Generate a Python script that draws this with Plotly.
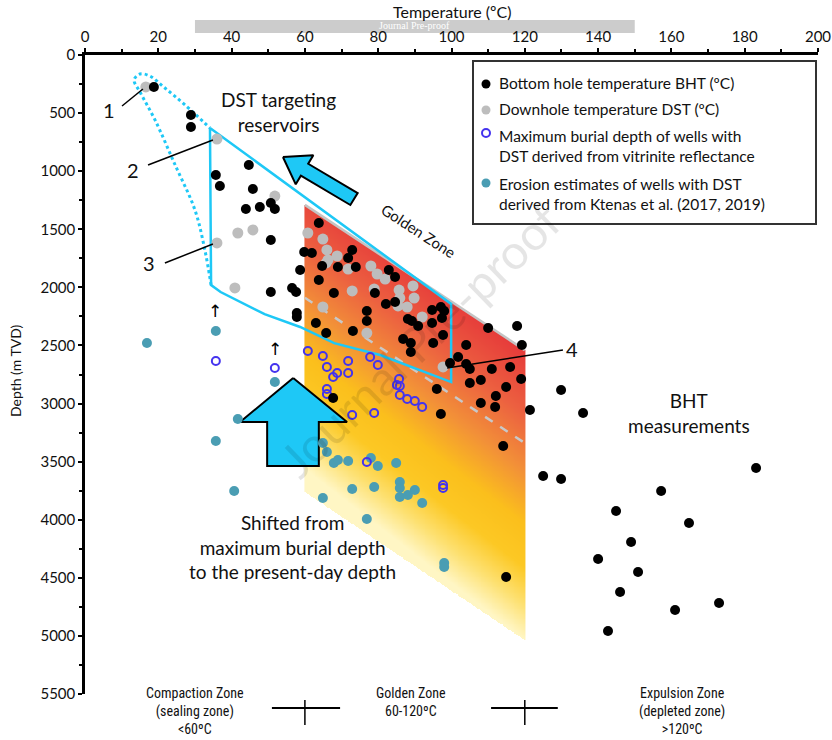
import numpy as np
import plotly.graph_objects as go

# ---------------- data (temperature °C, depth m TVD) ----------------
bht_temp = [18.8, 28.9, 28.9, 44.7, 35.7, 36.8, 45.8, 43.9, 47.7, 50.7, 51.8, 50.7, 50.7, 56.5, 57.6,
            63.8, 59.8, 61.9, 72.9, 71.8, 64.7, 69.0, 73.9, 58.7, 82.9, 84.6, 63.8, 67.9, 79.1, 82.1,
            84.6, 76.9, 94.7, 97.1, 98.0, 88.1, 89.2, 90.9, 94.7, 97.4, 76.9, 63.0, 57.8, 57.8, 65.8,
            73.1, 97.7, 86.8, 88.9, 88.9, 95.0, 110.0, 117.9, 119.2, 104.0, 101.8, 99.6, 104.0, 105.0,
            105.0, 108.0, 111.0, 116.0, 119.0, 114.9, 112.1, 108.0, 111.9, 96.0, 97.1, 121.4, 129.9,
            67.7, 135.9, 114.1, 125.0, 129.9, 157.2, 183.1, 144.9, 164.8, 149.0, 140.0, 150.9, 146.0,
            161.0, 173.0, 142.7, 114.9]
bht_depth = [275, 516, 620, 947, 1033, 1128, 1153, 1325, 1308, 1274, 1325, 1592, 2040, 2005, 2040,
             1446, 1696, 1704, 1678, 1747, 1816, 1825, 1825, 1851, 1851, 1911, 1937, 2048, 2048, 2143,
             2126, 2203, 2195, 2169, 2203, 2272, 2289, 2332, 2307, 2264, 2289, 2307, 2221, 2255, 2393,
             2376, 2410, 2444, 2479, 2556, 2479, 2350, 2332, 2496, 2496, 2599, 2651, 2660, 2703,
             2823, 2797, 2703, 2685, 2789, 2858, 2935, 2995, 3030, 2875, 3090, 3055, 2883,
             2952, 3081, 3365, 3624, 3649, 3753, 3555, 3925, 4028, 4192, 4338, 4450, 4622,
             4777, 4717, 4958, 4493]

dst_temp = [16.6, 36.0, 51.8, 41.7, 45.8, 36.0, 40.9, 60.8, 64.9, 66.0, 66.3, 65.8, 68.8, 71.8, 78.0,
            79.7, 81.9, 72.9, 78.9, 85.7, 85.9, 89.5, 89.8, 85.4, 87.9, 92.0, 64.9, 76.9, 97.7]
dst_depth = [275, 723, 1214, 1532, 1506, 1618, 2005, 1532, 1584, 1678, 1764, 1790, 1730, 1842, 1816,
             1885, 1928, 2031, 2014, 2023, 2092, 1988, 2092, 2160, 2169, 2255, 2169, 2393, 2685]

vr_temp = [35.7, 51.8, 60.8, 64.9, 66.0, 71.8, 77.8, 79.9, 68.8, 67.7, 71.8, 66.0, 66.0, 85.7, 85.1,
           85.9, 85.9, 87.9, 90.0, 92.0, 72.9, 78.9, 76.9, 97.7, 97.7]
vr_depth = [2634, 2694, 2548, 2591, 2685, 2634, 2599, 2668, 2737, 2771, 2737, 2875, 2918, 2789, 2840,
            2849, 2926, 2961, 2978, 3030, 3099, 3081, 3503, 3701, 3727]

ero_temp = [35.7, 16.9, 51.8, 41.7, 35.7, 40.7, 64.9, 66.0, 67.9, 69.0, 71.8, 78.0, 79.9, 84.9, 85.9,
            85.9, 85.9, 88.1, 90.0, 92.0, 72.9, 78.9, 64.9, 76.9, 98.0, 98.0]
ero_depth = [2376, 2479, 2814, 3133, 3322, 3753, 3340, 3417, 3512, 3486, 3494, 3469, 3537, 3512, 3675,
             3727, 3804, 3787, 3744, 3856, 3735, 3718, 3813, 3994, 4372, 4407]

# golden zone band (60-120 °C)
gz_temp = [60, 120]
gz_top = [1290, 2540]
gz_bottom = [3760, 5035]
gz_mid = [2090, 3340]

# DST targeting reservoirs outline
dst_poly_t = [34.1, 99.9, 99.9, 80.5, 68.0, 58.7, 49.0, 41.5, 37.0, 34.4, 34.1]
dst_poly_d = [628, 2143, 2815, 2582, 2480, 2341, 2230, 2109, 2040, 1980, 628]
dot_t = [34.4, 32.7, 30.0, 24.6, 19.1, 15.0, 13.4, 15.0, 17.7, 21.8, 27.3, 34.1]
dot_d = [1980, 1678, 1334, 947, 559, 318, 215, 164, 181, 284, 430, 628]

# arrows
diag_arrow_t = [54.0, 62.3, 60.9, 74.4, 72.4, 58.9, 57.5, 54.0]
diag_arrow_d = [878, 862, 936, 1188, 1291, 1039, 1113, 878]
up_arrow_t = [56.8, 71.5, 63.8, 63.8, 49.7, 49.7, 42.3, 56.8]
up_arrow_d = [2780, 3159, 3159, 3538, 3538, 3159, 3159, 2780]

CYAN = "#1ec8f6"
FONT = "Lato, Open Sans, sans-serif"
NARROW = "Liberation Sans Narrow, Arial Narrow, Roboto Condensed, Lato, sans-serif"

fig = go.Figure()

# ---- gradient golden-zone band as a masked heatmap ----
xs = np.linspace(gz_temp[0], gz_temp[1], 241)
ys = np.linspace(1280, 5040, 521)
X, Y = np.meshgrid(xs, ys)
f = (X - gz_temp[0]) / (gz_temp[1] - gz_temp[0])
top = gz_top[0] + f * (gz_top[1] - gz_top[0])
bot = gz_bottom[0] + f * (gz_bottom[1] - gz_bottom[0])
frac = (Y - top) / (bot - top)
v = np.clip(frac + 0.08 * (1 - f), 0, 1)
Z = np.where((frac >= 0) & (frac <= 1), v, np.nan)
fig.add_trace(go.Heatmap(
    x=xs, y=ys, z=Z, zmin=0, zmax=1, showscale=False, hoverinfo="skip",
    colorscale=[[0.0, "#e63a3a"], [0.22, "#ec6040"], [0.42, "#f29038"],
                [0.6, "#fbbf1c"], [0.75, "#fcc824"], [0.88, "#fde070"], [1.0, "#fff6c4"]]))

# gray top edge and dashed mid line
fig.add_trace(go.Scatter(x=gz_temp, y=gz_top, mode="lines",
                         line=dict(color="#c4c4c4", width=2.5), hoverinfo="skip"))
fig.add_trace(go.Scatter(x=gz_temp, y=gz_mid, mode="lines",
                         line=dict(color="#c8c8c8", width=2.5, dash="dash"), hoverinfo="skip"))

# DST polygon and dotted envelope
fig.add_trace(go.Scatter(x=dst_poly_t, y=dst_poly_d, mode="lines",
                         line=dict(color=CYAN, width=2.5), hoverinfo="skip"))
fig.add_trace(go.Scatter(x=dot_t, y=dot_d, mode="lines",
                         line=dict(color=CYAN, width=3, dash="dot", shape="spline"),
                         hoverinfo="skip"))

# block arrows
for at, ad in [(diag_arrow_t, diag_arrow_d), (up_arrow_t, up_arrow_d)]:
    fig.add_trace(go.Scatter(x=at, y=ad, mode="lines", fill="toself", fillcolor=CYAN,
                             line=dict(color="black", width=2), hoverinfo="skip"))

# data points
fig.add_trace(go.Scatter(x=ero_temp, y=ero_depth, mode="markers",
                         marker=dict(color="#4a9db3", size=10), name="Erosion"))
fig.add_trace(go.Scatter(x=vr_temp, y=vr_depth, mode="markers",
                         marker=dict(color="rgba(0,0,0,0)", size=8,
                                     line=dict(color="#4433ee", width=2)), name="VR"))
fig.add_trace(go.Scatter(x=dst_temp, y=dst_depth, mode="markers",
                         marker=dict(color="#bdbdbd", size=11), name="DST"))
fig.add_trace(go.Scatter(x=bht_temp, y=bht_depth, mode="markers",
                         marker=dict(color="black", size=10), name="BHT"))

shapes = []
annotations = []


def ann(**kw):
    kw.setdefault("showarrow", False)
    kw.setdefault("xanchor", "center")
    kw.setdefault("yanchor", "middle")
    annotations.append(kw)


# leader lines for labels 1-4
leaders = [((10.1, 439), (15.8, 293), "1", (6.5, 473)),
           ((17.2, 947), (34.9, 732), "2", (13.1, 990)),
           ((21.8, 1790), (34.9, 1627), "3", (17.5, 1790)),
           ((130.4, 2539), (98.8, 2694), "4", (132.9, 2530))]
for p0, p1, lab, pt in leaders:
    shapes.append(dict(type="line", xref="x", yref="y", x0=p0[0], y0=p0[1], x1=p1[0], y1=p1[1],
                       line=dict(color="black", width=1.5)))
    ann(x=pt[0], y=pt[1], xref="x", yref="y", text=lab,
        font=dict(family=FONT, size=20, color="#111"))

# small up arrows
for t, d in [(35.5, 2200), (51.8, 2530)]:
    ann(x=t, y=d, xref="x", yref="y", text="↑",
        font=dict(family="DejaVu Sans", size=17, color="black"))

# text labels
ann(x=52.7, y=490, xref="x", yref="y", text="DST targeting<br>reservoirs",
    font=dict(family=FONT, size=19, color="#111"))
ann(x=91.1, y=1515, xref="x", yref="y", text="Golden Zone", textangle=33,
    font=dict(family=FONT, size=15, color="#111"))
ann(x=164.8, y=3081, xref="x", yref="y", text="BHT<br>measurements",
    font=dict(family=FONT, size=19, color="#111"))
ann(x=56.5, y=4235, xref="x", yref="y",
    text="Shifted from<br>maximum burial depth<br>to the present-day depth",
    font=dict(family=FONT, size=19, color="#111"))
# watermark
ann(x=0.457, y=0.554, xref="paper", yref="paper", text="Journal Pre-proof", textangle=-44,
    font=dict(family=FONT, size=48, color="rgba(0,0,0,0.10)"))
# axis titles
ann(x=0.5007, y=1.0685, xref="paper", yref="paper", text="Temperature (ºC)",
    font=dict(family=FONT, size=16, color="#111"))
ann(x=-0.0955, y=0.507, xref="paper", yref="paper", text="Depth (m TVD)", textangle=-90,
    font=dict(family=FONT, size=14, color="#111"))
# banner text
ann(x=0.45, y=1.0454, xref="paper", yref="paper", text="Journal Pre-proof",
    font=dict(family="Liberation Serif, serif", size=10, color="white"))

# banner rectangle
shapes.append(dict(type="rect", xref="paper", yref="paper", x0=0.150, x1=0.750, y0=1.0344, y1=1.0548,
                   fillcolor="#cccccc", line=dict(width=0), layer="below"))

# bottom zone labels
zone_labels = [(0.150, "Compaction Zone<br>(sealing zone)<br><60ºC"),
               (0.4448, "Golden Zone<br>60-120ºC"),
               (0.8145, "Expulsion Zone<br>(depleted zone)<br>>120ºC")]
for xp, txt in zone_labels:
    ann(x=xp, y=0.0175, xref="paper", yref="paper", text=txt, yanchor="top",
        font=dict(family=NARROW, size=14, color="#111"))

# crosses separating zones
for tc, (xa, xb) in [(60, (0.255, 0.348)), (120, (0.554, 0.645))]:
    shapes.append(dict(type="line", xref="paper", yref="paper", x0=xa, x1=xb, y0=-0.0219, y1=-0.0219,
                       line=dict(color="black", width=2)))
    shapes.append(dict(type="line", xref="x", yref="paper", x0=tc, x1=tc, y0=-0.0094, y1=-0.0485,
                       line=dict(color="black", width=1.5)))


# legend box (manual)
def px2xp(px):
    return (px - 85) / 733.0


def py2yp(py):
    return 1 - (py - 55) / 639.0


shapes.append(dict(type="rect", xref="paper", yref="paper", x0=px2xp(473), x1=px2xp(816),
                   y0=py2yp(224), y1=py2yp(61), line=dict(color="#333", width=2), fillcolor="white"))
legend_items = [
    (84, "black", None, 9, "Bottom hole temperature BHT (ºC)", 83),
    (110, "#bdbdbd", None, 9, "Downhole temperature DST (ºC)", 109),
    (133, "white", "#4433ee", 8, "Maximum burial depth of wells with<br>DST derived from vitrinite reflectance", 146),
    (183, "#4a9db3", None, 9, "Erosion estimates of wells with DST<br>derived from Ktenas et al. (2017, 2019)", 194),
]
for my, fillc, linec, dia, txt, ty in legend_items:
    r = dia / 2.0
    shapes.append(dict(type="circle", xref="paper", yref="paper",
                       x0=px2xp(486 - r), x1=px2xp(486 + r), y0=py2yp(my + r), y1=py2yp(my - r),
                       fillcolor=fillc, line=dict(color=linec if linec else fillc, width=2 if linec else 0)))
    ann(x=px2xp(497), y=py2yp(ty), xref="paper", yref="paper", text=txt,
        xanchor="left", align="left", font=dict(family=FONT, size=15.5, color="#111"))

fig.update_layout(
    width=832, height=740,
    margin=dict(l=85, r=14, t=55, b=46),
    paper_bgcolor="white", plot_bgcolor="white",
    showlegend=False,
    shapes=shapes, annotations=annotations,
    xaxis=dict(range=[0, 200], side="top", showgrid=False, zeroline=False, automargin=False,
               showline=True, linecolor="black", linewidth=2.5,
               ticks="outside", ticklen=4, tickwidth=2, tickcolor="black", dtick=20, tick0=0,
               minor=dict(dtick=10, ticks="outside", ticklen=3, tickwidth=2, tickcolor="black"),
               tickfont=dict(family=FONT, size=15, color="#111")),
    yaxis=dict(range=[5500, 0], showgrid=False, zeroline=False, automargin=False,
               showline=True, linecolor="black", linewidth=2.5,
               ticks="outside", ticklen=4, tickwidth=2, tickcolor="black", dtick=500, tick0=0,
               minor=dict(dtick=250, ticks="outside", ticklen=3, tickwidth=2, tickcolor="black"),
               tickfont=dict(family=FONT, size=15, color="#111")),
)

# remove the default page margin so the 832x740 figure fills the window exactly
fig.write_html("out.html", config={"displayModeBar": False},
               post_script="document.body.style.margin='0';document.body.style.overflow='hidden';")
